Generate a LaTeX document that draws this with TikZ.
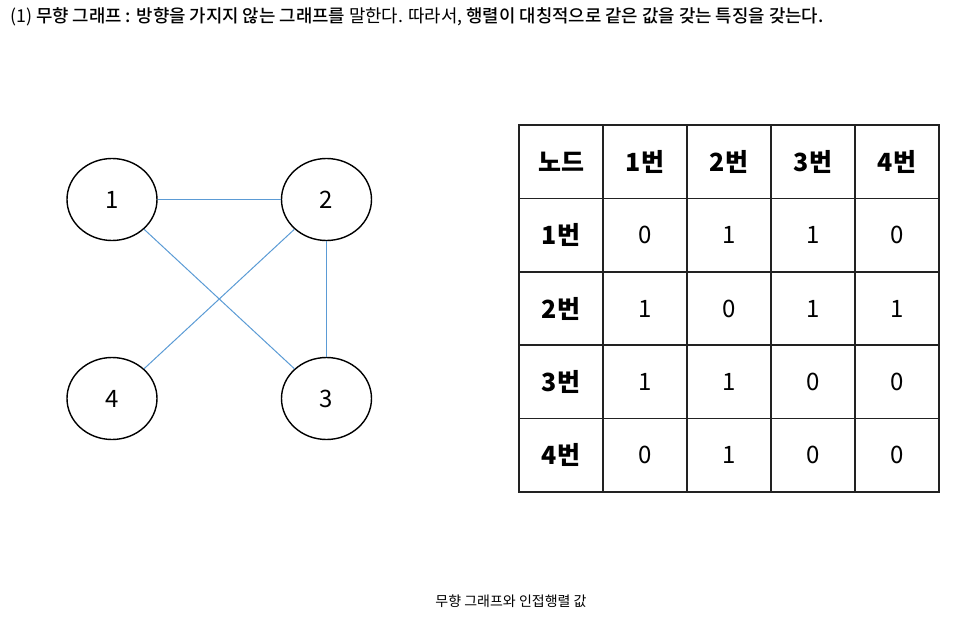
\documentclass[tikz,border=0pt]{standalone}
\usepackage{fontspec}
\setmainfont{Noto Sans CJK KR}
\newfontfamily\medfont{Noto Sans CJK KR Medium}
\usetikzlibrary{shapes.geometric}
\definecolor{edgeblue}{HTML}{5B9BD5}
\definecolor{gridline}{HTML}{222222}
\tikzset{
  vert/.style={ellipse, draw=black, line width=1.4pt, minimum width=90pt, minimum height=82pt, inner sep=0pt, font=\fontsize{24}{24}\selectfont},
  edge/.style={draw=edgeblue, line width=1pt},
  cell/.style={rectangle, draw=gridline, line width=1.5pt, minimum width=84pt, minimum height=73.4pt, inner sep=0pt, font=\fontsize{24}{24}\selectfont},
  hcell/.style={cell, font=\fontsize{25}{25}\selectfont\bfseries},
}
\begin{document}
\begin{tikzpicture}[x=1pt,y=-1pt]
\useasboundingbox (0,0) rectangle (956,629);
% header text
\node[anchor=west, inner sep=0pt, font=\fontsize{17.8}{17.8}\selectfont] (title) at (10,17)
  {(1) {\medfont 무향 그래프 : 방향을 가지지 않는 그래프를} 말한다. 따라서, {\medfont 행렬이 대칭적으로 같은 값을 갖는 특징을 갖는다.}};
% graph
\node[vert] (n1) at (112,199.5) {1};
\node[vert] (n2) at (326.5,199.5) {2};
\node[vert] (n4) at (112,398.5) {4};
\node[vert] (n3) at (326.5,398.5) {3};
\draw[edge] (n1) -- (n2);
\draw[edge] (n1) -- (n3);
\draw[edge] (n2) -- (n4);
\draw[edge] (n2) -- (n3);
% table
\node[hcell] (h0) at (561,161.7) {노드};
\node[hcell] (h1) at (645,161.7) {1번};
\node[hcell] (h2) at (729,161.7) {2번};
\node[hcell] (h3) at (813,161.7) {3번};
\node[hcell] (h4) at (897,161.7) {4번};
\node[hcell] (r1) at (561,235.1) {1번};
\node[cell] (c11) at (645,235.1) {0};
\node[cell] (c12) at (729,235.1) {1};
\node[cell] (c13) at (813,235.1) {1};
\node[cell] (c14) at (897,235.1) {0};
\node[hcell] (r2) at (561,308.5) {2번};
\node[cell] (c21) at (645,308.5) {1};
\node[cell] (c22) at (729,308.5) {0};
\node[cell] (c23) at (813,308.5) {1};
\node[cell] (c24) at (897,308.5) {1};
\node[hcell] (r3) at (561,381.9) {3번};
\node[cell] (c31) at (645,381.9) {1};
\node[cell] (c32) at (729,381.9) {1};
\node[cell] (c33) at (813,381.9) {0};
\node[cell] (c34) at (897,381.9) {0};
\node[hcell] (r4) at (561,455.3) {4번};
\node[cell] (c41) at (645,455.3) {0};
\node[cell] (c42) at (729,455.3) {1};
\node[cell] (c43) at (813,455.3) {0};
\node[cell] (c44) at (897,455.3) {0};
% caption
\node[inner sep=0pt, font=\fontsize{14}{14}\selectfont] (caption) at (511,601) {무향 그래프와 인접행렬 값};
\end{tikzpicture}
\end{document}
